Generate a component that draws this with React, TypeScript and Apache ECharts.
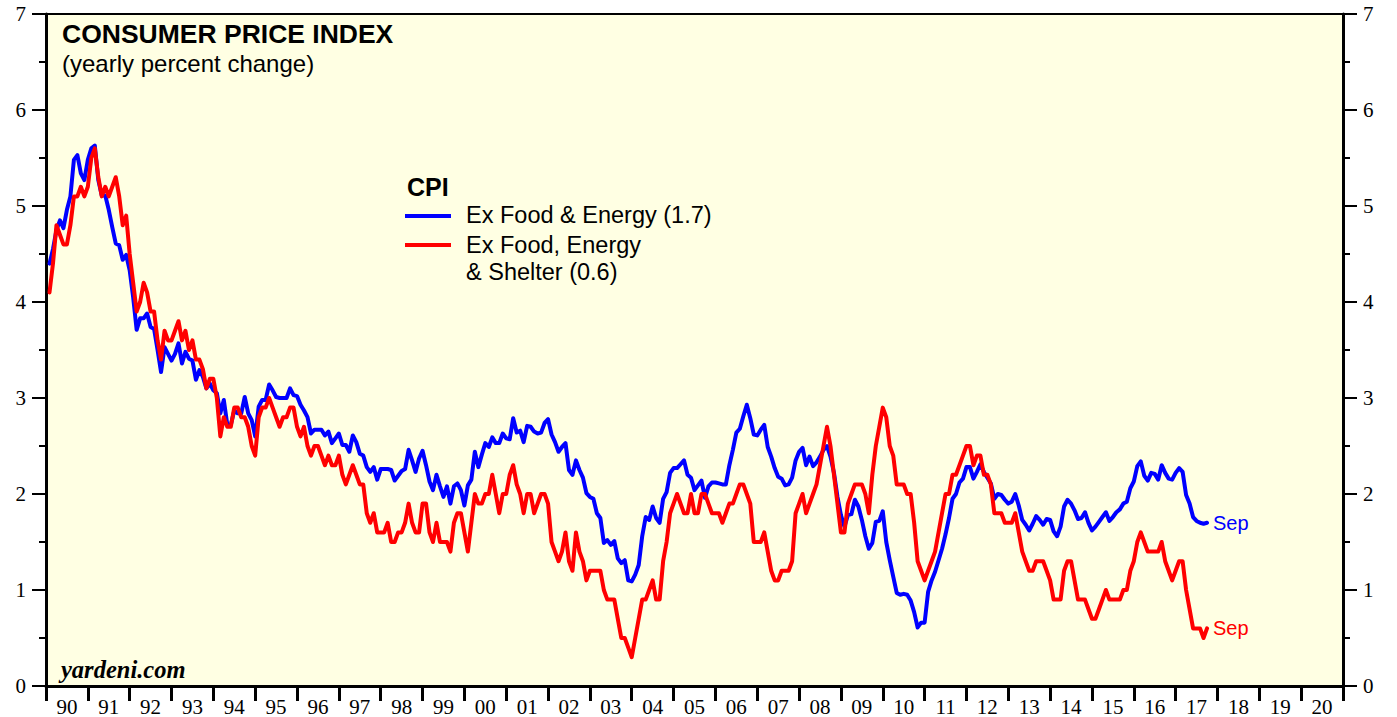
import { useEffect, useRef } from "react";
import * as echarts from "echarts";

const START_YEAR = 1990;
const END_YEAR = 2021;
const Y_MIN = 0;
const Y_MAX = 7;

// CPI ex food & energy, yearly % change, monthly Jan 1990 - Sep 2017
const exFoodEnergy: number[] = [
  4.4, 4.55, 4.75, 4.85, 4.77, 4.96, 5.1, 5.48, 5.53, 5.34, 5.27, 5.48,
  5.6, 5.63, 5.27, 5.11, 5.11, 4.96, 4.78, 4.61, 4.59, 4.44, 4.49, 4.33,
  4.05, 3.71, 3.83, 3.83, 3.88, 3.74, 3.72, 3.5, 3.27, 3.53, 3.46, 3.39,
  3.46, 3.57, 3.36, 3.48, 3.41, 3.39, 3.19, 3.29, 3.22, 3.1, 3.15, 3.08,
  3.05, 2.84, 2.98, 2.72, 2.72, 2.87, 2.84, 2.84, 3.01, 2.84, 2.77, 2.6,
  2.91, 2.98, 2.98, 3.14, 3.08, 3.01, 3.0, 3.0, 3.0, 3.1, 3.03, 3.02,
  2.93, 2.87, 2.8, 2.63, 2.67, 2.67, 2.67, 2.61, 2.65, 2.53, 2.58, 2.63,
  2.51, 2.51, 2.44, 2.61, 2.54, 2.42, 2.4, 2.28, 2.23, 2.28, 2.15, 2.26,
  2.26, 2.26, 2.25, 2.14, 2.19, 2.24, 2.26, 2.46, 2.35, 2.23, 2.37, 2.45,
  2.3, 2.13, 2.04, 2.2, 2.08, 1.97, 2.08, 1.9, 2.08, 2.11, 2.04, 1.88,
  2.09, 2.15, 2.44, 2.28, 2.41, 2.53, 2.49, 2.59, 2.53, 2.53, 2.63, 2.58,
  2.57, 2.79, 2.64, 2.66, 2.54, 2.71, 2.7, 2.65, 2.63, 2.64, 2.74, 2.78,
  2.62, 2.54, 2.44, 2.49, 2.53, 2.25, 2.2, 2.35, 2.25, 2.17, 2.01, 1.97,
  1.95, 1.8, 1.75, 1.49, 1.52, 1.47, 1.51, 1.33, 1.28, 1.31, 1.1, 1.09,
  1.16, 1.26, 1.56, 1.76, 1.73, 1.87, 1.75, 1.7, 1.95, 2.02, 2.22, 2.27,
  2.27, 2.31, 2.35, 2.2, 2.17, 2.04, 2.09, 2.14, 1.96, 2.08, 2.12, 2.12,
  2.11, 2.1, 2.1, 2.3, 2.46, 2.64, 2.68, 2.81, 2.93, 2.79, 2.62, 2.61,
  2.67, 2.72, 2.49, 2.39, 2.27, 2.18, 2.16, 2.09, 2.1, 2.17, 2.35, 2.44,
  2.48, 2.3, 2.39, 2.29, 2.33, 2.39, 2.46, 2.5, 2.39, 2.22, 1.97, 1.78,
  1.66, 1.78, 1.79, 1.94, 1.87, 1.73, 1.56, 1.43, 1.49, 1.71, 1.72, 1.82,
  1.5, 1.31, 1.14, 0.97, 0.95, 0.96, 0.95, 0.89, 0.77, 0.61, 0.66, 0.66,
  0.98, 1.1, 1.19, 1.31, 1.43, 1.58, 1.75, 1.95, 2.0, 2.12, 2.16, 2.28,
  2.28, 2.16, 2.23, 2.31, 2.23, 2.17, 2.11, 1.95, 2.0, 1.99, 1.94, 1.9,
  1.92, 2.0, 1.88, 1.73, 1.68, 1.62, 1.69, 1.77, 1.73, 1.68, 1.74, 1.73,
  1.61, 1.56, 1.66, 1.87, 1.94, 1.9, 1.83, 1.74, 1.75, 1.81, 1.7, 1.62,
  1.66, 1.71, 1.76, 1.81, 1.72, 1.76, 1.81, 1.84, 1.9, 1.92, 2.06, 2.13,
  2.29, 2.34, 2.19, 2.14, 2.22, 2.21, 2.15, 2.3, 2.22, 2.16, 2.15, 2.22,
  2.27, 2.23, 1.99, 1.9, 1.76, 1.72, 1.7, 1.69, 1.7,
];

// CPI ex food, energy & shelter, yearly % change, monthly Jan 1990 - Sep 2017
const exFoodEnergyShelter: number[] = [
  4.1, 4.4, 4.8, 4.7, 4.6, 4.6, 4.8, 5.1, 5.1, 5.2, 5.1, 5.2,
  5.5, 5.6, 5.3, 5.1, 5.2, 5.1, 5.2, 5.3, 5.1, 4.8, 4.9, 4.5,
  4.2, 3.9, 4.0, 4.2, 4.1, 3.9, 3.9, 3.6, 3.4, 3.7, 3.6, 3.6,
  3.7, 3.8, 3.6, 3.7, 3.5, 3.6, 3.4, 3.4, 3.3, 3.1, 3.2, 3.2,
  3.0, 2.6, 2.8, 2.7, 2.7, 2.9, 2.9, 2.8, 2.8, 2.7, 2.5, 2.4,
  2.8, 2.9, 2.9, 3.0, 2.9, 2.8, 2.7, 2.8, 2.8, 2.9, 2.9, 2.7,
  2.6, 2.7, 2.5, 2.4, 2.5, 2.5, 2.4, 2.3, 2.4, 2.3, 2.3, 2.4,
  2.2, 2.1, 2.2, 2.3, 2.2, 2.1, 2.1, 1.8, 1.7, 1.8, 1.6, 1.6,
  1.6, 1.7, 1.5, 1.5, 1.6, 1.6, 1.7, 1.9, 1.7, 1.6, 1.6, 1.9,
  1.9, 1.6, 1.5, 1.7, 1.5, 1.5, 1.5, 1.4, 1.7, 1.8, 1.8, 1.6,
  1.4, 1.7, 2.0, 1.9, 1.9, 2.0, 2.0, 2.2, 2.0, 1.8, 2.0, 2.0,
  2.2, 2.3, 2.1, 2.0, 1.8, 2.0, 2.0, 1.8, 1.9, 2.0, 2.0, 1.9,
  1.5, 1.4, 1.3, 1.4, 1.6, 1.3, 1.2, 1.6, 1.4, 1.3, 1.1, 1.2,
  1.2, 1.2, 1.2, 1.0, 0.9, 0.9, 0.9, 0.7, 0.5, 0.5, 0.4, 0.3,
  0.5, 0.7, 0.9, 0.9, 1.0, 1.1, 0.9, 0.9, 1.3, 1.5, 1.8, 1.9,
  2.0, 1.9, 1.8, 1.8, 2.0, 1.8, 1.8, 2.0, 2.0, 1.9, 1.8, 1.8,
  1.8, 1.7, 1.8, 1.9, 1.9, 2.0, 2.1, 2.1, 2.0, 1.9, 1.5, 1.5,
  1.5, 1.6, 1.4, 1.2, 1.1, 1.1, 1.2, 1.2, 1.2, 1.3, 1.8, 1.9,
  2.0, 1.8, 1.9, 2.0, 2.1, 2.3, 2.5, 2.7, 2.5, 2.2, 1.9, 1.6,
  1.6, 1.9, 2.0, 2.1, 2.1, 2.1, 2.0, 1.8, 2.2, 2.5, 2.7, 2.9,
  2.8, 2.5, 2.4, 2.1, 2.1, 2.1, 2.0, 2.0, 1.7, 1.3, 1.2, 1.1,
  1.2, 1.3, 1.4, 1.6, 1.8, 2.0, 2.0, 2.2, 2.2, 2.3, 2.4, 2.5,
  2.5, 2.3, 2.4, 2.4, 2.2, 2.2, 2.1, 1.8, 1.8, 1.8, 1.7, 1.7,
  1.7, 1.8, 1.6, 1.4, 1.3, 1.2, 1.2, 1.3, 1.3, 1.3, 1.2, 1.1,
  0.9, 0.9, 0.9, 1.2, 1.3, 1.3, 1.1, 0.9, 0.9, 0.9, 0.8, 0.7,
  0.7, 0.8, 0.9, 1.0, 0.9, 0.9, 0.9, 0.9, 1.0, 1.0, 1.2, 1.3,
  1.5, 1.6, 1.5, 1.4, 1.4, 1.4, 1.4, 1.5, 1.3, 1.2, 1.1, 1.2,
  1.3, 1.3, 1.0, 0.8, 0.6, 0.6, 0.6, 0.5, 0.6,
];

const lastMonthLabel = "Sep";
const titleText = "CONSUMER PRICE INDEX";
const subtitleText = "(yearly percent change)";
const legendTitle = "CPI";
const legendBlue = "Ex Food & Energy (1.7)";
const legendRed1 = "Ex Food, Energy";
const legendRed2 = "& Shelter (0.6)";
const sourceText = "yardeni.com";

const BLUE = "#0000FF";
const RED = "#FF0000";

function toPoints(vals: number[]) {
  return vals.map((v, i) => [START_YEAR + (i + 1) / 12, v]);
}

function yearLabel(v: number) {
  if (Math.round(v) % 2 !== 1) return "";
  const yr = START_YEAR + (Math.round(v) - 1) / 2;
  return String(yr % 100).padStart(2, "0");
}

export default function App() {
  const ref = useRef<HTMLDivElement>(null);
  useEffect(() => {
    if (!ref.current) return;
    const chart = echarts.init(ref.current, undefined, { renderer: "svg" });
    const nYears = END_YEAR - START_YEAR;
    const serifFont = "Liberation Serif";
    const sansFont = "Liberation Sans";
    const yAxisCommon = {
      type: "value",
      min: Y_MIN,
      max: Y_MAX,
      interval: 1,
      splitLine: { show: false },
      axisLine: { show: true, lineStyle: { color: "#000", width: 3 } },
      axisTick: { show: true, inside: false, length: 14, lineStyle: { color: "#000", width: 2 } },
      minorTick: { show: true, splitNumber: 2, length: 7, lineStyle: { color: "#000", width: 2 } },
      axisLabel: { fontFamily: serifFont, fontSize: 21, color: "#000", margin: 20 },
    };
    chart.setOption({
      animation: false,
      backgroundColor: "#FFFFFF",
      grid: {
        left: 46,
        right: 54,
        top: 14,
        bottom: 31,
        show: true,
        backgroundColor: "#FFFFE3",
        borderColor: "#000",
        borderWidth: 2,
        containLabel: false,
      },
      xAxis: [
        {
          type: "value",
          min: START_YEAR,
          max: END_YEAR,
          interval: 1,
          position: "bottom",
          splitLine: { show: false },
          axisLine: { show: true, onZero: false, lineStyle: { color: "#000", width: 3 } },
          axisTick: { show: true, inside: false, length: 15, lineStyle: { color: "#000", width: 3 } },
          axisLabel: { show: false },
        },
        {
          type: "value",
          min: 0,
          max: nYears * 2,
          interval: 1,
          position: "bottom",
          splitLine: { show: false },
          axisLine: { show: false, onZero: false },
          axisTick: { show: false },
          axisLabel: {
            show: true,
            formatter: yearLabel,
            fontFamily: serifFont,
            fontSize: 21,
            color: "#000",
            margin: 10,
          },
        },
      ],
      yAxis: [
        { ...yAxisCommon, position: "left" },
        { ...yAxisCommon, position: "right" },
      ],
      series: [
        {
          type: "line",
          name: legendBlue,
          xAxisIndex: 0,
          yAxisIndex: 0,
          data: toPoints(exFoodEnergy),
          showSymbol: false,
          symbol: "none",
          lineStyle: { color: BLUE, width: 4, cap: "round", join: "round" },
          endLabel: {
            show: true,
            formatter: lastMonthLabel,
            color: BLUE,
            fontFamily: sansFont,
            fontSize: 20,
            distance: 6,
          },
        },
        {
          type: "line",
          name: legendRed1 + " " + legendRed2,
          xAxisIndex: 0,
          yAxisIndex: 0,
          data: toPoints(exFoodEnergyShelter),
          showSymbol: false,
          symbol: "none",
          lineStyle: { color: RED, width: 4, cap: "round", join: "round" },
          endLabel: {
            show: true,
            formatter: lastMonthLabel,
            color: RED,
            fontFamily: sansFont,
            fontSize: 20,
            distance: 6,
          },
        },
      ],
      graphic: [
        {
          type: "text",
          x: 62,
          y: 34,
          style: { text: titleText, fill: "#000", font: `bold 26.5px "${sansFont}"`, verticalAlign: "middle", align: "left" },
        },
        {
          type: "text",
          x: 62,
          y: 63,
          style: { text: subtitleText, fill: "#000", font: `24px "${sansFont}"`, verticalAlign: "middle", align: "left" },
        },
        {
          type: "text",
          x: 407,
          y: 187,
          style: { text: legendTitle, fill: "#000", font: `bold 25px "${sansFont}"`, verticalAlign: "middle", align: "left" },
        },
        {
          type: "line",
          shape: { x1: 405, y1: 216, x2: 451, y2: 216 },
          style: { stroke: BLUE, lineWidth: 4 },
        },
        {
          type: "text",
          x: 466,
          y: 215,
          style: { text: legendBlue, fill: "#000", font: `23.5px "${sansFont}"`, verticalAlign: "middle", align: "left" },
        },
        {
          type: "line",
          shape: { x1: 405, y1: 245, x2: 451, y2: 245 },
          style: { stroke: RED, lineWidth: 4 },
        },
        {
          type: "text",
          x: 466,
          y: 245,
          style: { text: legendRed1, fill: "#000", font: `23.5px "${sansFont}"`, verticalAlign: "middle", align: "left" },
        },
        {
          type: "text",
          x: 466,
          y: 272,
          style: { text: legendRed2, fill: "#000", font: `23.5px "${sansFont}"`, verticalAlign: "middle", align: "left" },
        },
        {
          type: "text",
          x: 61,
          y: 669,
          style: { text: sourceText, fill: "#000", font: `italic bold 24.5px "${serifFont}"`, verticalAlign: "middle", align: "left" },
        },
      ],
    });
    return () => chart.dispose();
  }, []);
  return (
    <div
      ref={ref}
      style={{ position: "fixed", left: 0, top: 0, width: 1397, height: 717 }}
    />
  );
}
